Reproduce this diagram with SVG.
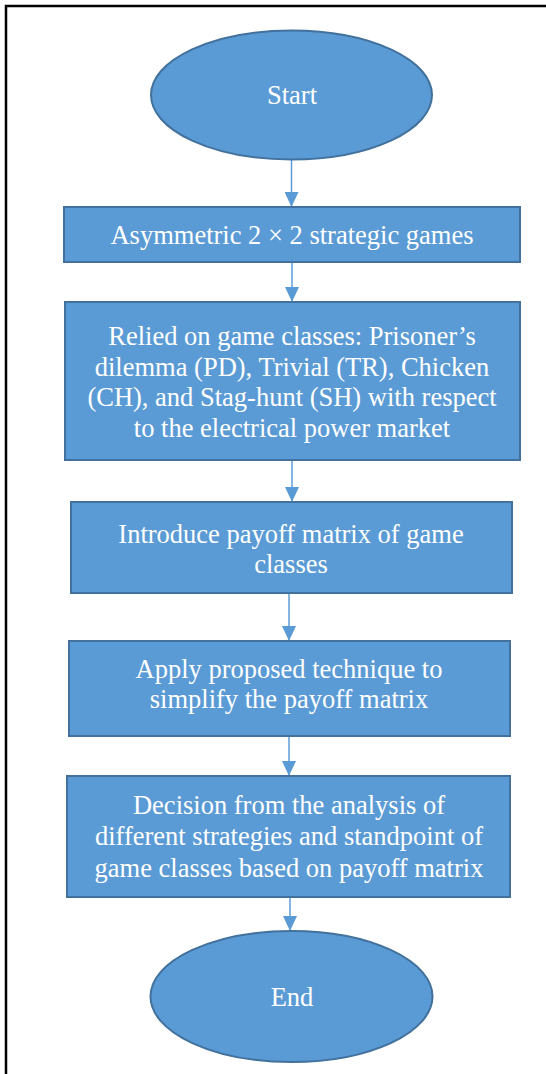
<svg xmlns="http://www.w3.org/2000/svg" width="546" height="1074" viewBox="0 0 546 1074">
<style>
.n{fill:#5B9BD5;stroke:#41719C;stroke-width:2}
.t{font-family:"Liberation Serif","Times New Roman",serif;font-size:26.5px;fill:#FFFFFF;text-anchor:middle}
.c{stroke:#5B9BD5;stroke-width:1.5;fill:none}
</style>
<defs>
<marker id="ah" markerUnits="userSpaceOnUse" markerWidth="16" markerHeight="14" refX="15" refY="7" orient="auto">
<path d="M0,0 L15,7 L0,14 Z" fill="#5B9BD5"/>
</marker>
</defs>
<rect width="546" height="1074" fill="#FFFFFF"/>
<path d="M6,1074 V6 H546" fill="none" stroke="#000000" stroke-width="2.5"/>
<g id="connectors">
<line class="c" x1="291.5" y1="160" x2="291.5" y2="207" marker-end="url(#ah)"/>
<line class="c" x1="292" y1="262" x2="292" y2="302" marker-end="url(#ah)"/>
<line class="c" x1="292" y1="460" x2="292" y2="502" marker-end="url(#ah)"/>
<line class="c" x1="289" y1="593" x2="289" y2="641" marker-end="url(#ah)"/>
<line class="c" x1="289" y1="736" x2="289" y2="776" marker-end="url(#ah)"/>
<line class="c" x1="290" y1="897" x2="290" y2="931" marker-end="url(#ah)"/>
</g>
<g id="start">
<ellipse class="n" cx="291.5" cy="95" rx="140.5" ry="64.5"/>
<text class="t" x="292" y="104">Start</text>
</g>
<g id="box1">
<rect class="n" x="64" y="207" width="456" height="55"/>
<text class="t" x="292" y="244">Asymmetric 2 × 2 strategic games</text>
</g>
<g id="box2">
<rect class="n" x="65" y="302" width="455" height="158"/>
<text class="t" x="292" y="345">Relied on game classes: Prisoner’s</text>
<text class="t" x="292" y="375.5">dilemma (PD), Trivial (TR), Chicken</text>
<text class="t" x="292" y="406">(CH), and Stag-hunt (SH) with respect</text>
<text class="t" x="292" y="437">to the electrical power market</text>
</g>
<g id="box3">
<rect class="n" x="71" y="502" width="441" height="91"/>
<text class="t" x="291" y="543">Introduce payoff matrix of game</text>
<text class="t" x="291" y="573">classes</text>
</g>
<g id="box4">
<rect class="n" x="69" y="641" width="441" height="95"/>
<text class="t" x="289" y="678">Apply proposed technique to</text>
<text class="t" x="289" y="708">simplify the payoff matrix</text>
</g>
<g id="box5">
<rect class="n" x="67" y="776" width="443" height="121"/>
<text class="t" x="289" y="814">Decision from the analysis of</text>
<text class="t" x="289" y="845">different strategies and standpoint of</text>
<text class="t" x="289" y="876.5">game classes based on payoff matrix</text>
</g>
<g id="end">
<ellipse class="n" cx="291.5" cy="996.5" rx="141" ry="65.5"/>
<text class="t" x="292" y="1006">End</text>
</g>
</svg>
